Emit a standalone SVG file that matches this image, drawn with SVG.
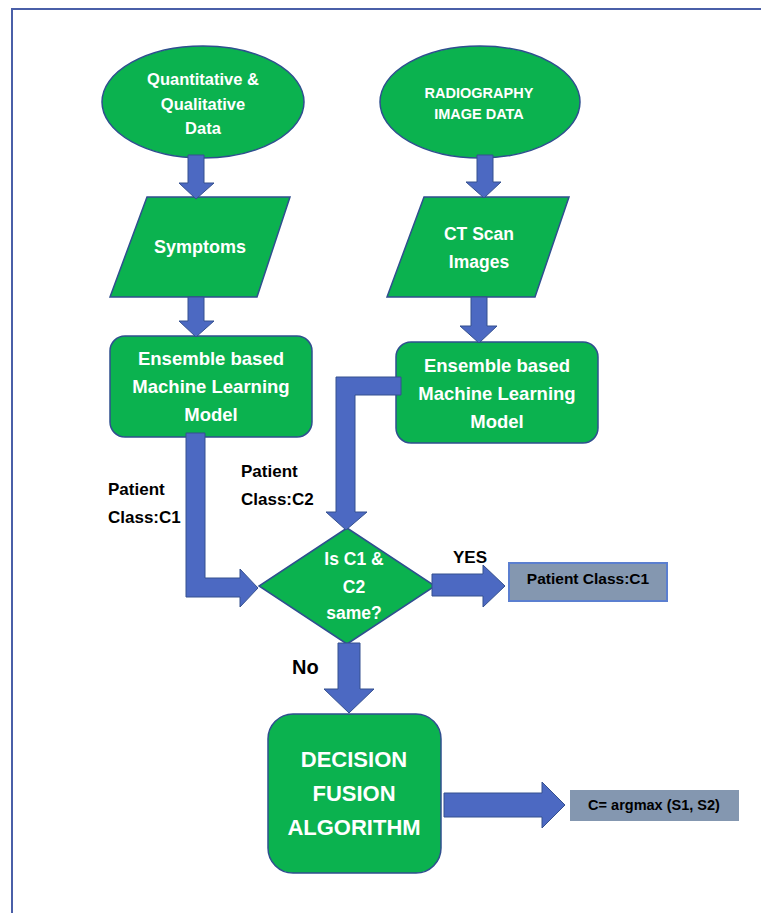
<svg xmlns="http://www.w3.org/2000/svg" width="761" height="913" viewBox="0 0 761 913">
<style>
.node{fill:#0bb24f;stroke:#2f4f8f;stroke-width:1.5}
.arr{fill:#4c69c2;stroke:#34508f;stroke-width:1}
.wt{font-family:"Liberation Sans",Arial,sans-serif;font-weight:bold;fill:#ffffff;text-anchor:middle}
.bt{font-family:"Liberation Sans",Arial,sans-serif;font-weight:bold;fill:#000000}
.out{fill:#8497b0}
</style>
<rect width="761" height="913" fill="#ffffff"/>
<rect x="12" y="9" width="800" height="960" fill="none" stroke="#4a5fa8" stroke-width="2"/>

<g id="n_quant">
<ellipse class="node" cx="203" cy="102" rx="101" ry="56"/>
<text class="wt" x="203" y="85" font-size="16.5">Quantitative &amp;</text>
<text class="wt" x="203" y="110" font-size="16.5">Qualitative</text>
<text class="wt" x="203" y="134" font-size="16.5">Data</text>
</g>
<g id="n_radio">
<ellipse class="node" cx="480" cy="102" rx="100" ry="56"/>
<text class="wt" x="479" y="98" font-size="14.5">RADIOGRAPHY</text>
<text class="wt" x="479" y="119" font-size="14.5">IMAGE DATA</text>
</g>
<g id="n_symptoms">
<polygon class="node" points="147,197 290,197 257,297 110,297"/>
<text class="wt" x="200" y="253" font-size="18">Symptoms</text>
</g>
<g id="n_ct">
<polygon class="node" points="424,197 569,197 535,297 387,297"/>
<text class="wt" x="479" y="240" font-size="17.5">CT Scan</text>
<text class="wt" x="479" y="268" font-size="17.5">Images</text>
</g>
<g id="n_ml1">
<rect class="node" x="110" y="336" width="202" height="101" rx="15"/>
<text class="wt" x="211" y="365" font-size="18.5">Ensemble based</text>
<text class="wt" x="211" y="393" font-size="18.5">Machine Learning</text>
<text class="wt" x="211" y="421" font-size="18.5">Model</text>
</g>
<g id="n_ml2">
<rect class="node" x="396" y="342" width="202" height="101" rx="15"/>
<text class="wt" x="497" y="372" font-size="18.5">Ensemble based</text>
<text class="wt" x="497" y="400" font-size="18.5">Machine Learning</text>
<text class="wt" x="497" y="428" font-size="18.5">Model</text>
</g>
<g id="n_decision">
<polygon class="node" points="347,528 435,586 347,644 259,586"/>
<text class="wt" x="354" y="565" font-size="17.5">Is C1 &amp;</text>
<text class="wt" x="354" y="593" font-size="17.5">C2</text>
<text class="wt" x="354" y="619" font-size="17.5">same?</text>
</g>
<g id="n_fusion">
<rect class="node" x="268" y="714" width="173" height="159" rx="25"/>
<text class="wt" x="354" y="767" font-size="22">DECISION</text>
<text class="wt" x="354" y="801" font-size="22">FUSION</text>
<text class="wt" x="354" y="835" font-size="22">ALGORITHM</text>
</g>
<g id="n_out1">
<rect class="out" x="509" y="563" width="158" height="38" stroke="#5b7fd0" stroke-width="2"/>
<text class="bt" x="588" y="584" font-size="15.5" text-anchor="middle">Patient Class:C1</text>
</g>
<g id="n_out2">
<rect class="out" x="570" y="790" width="169" height="31"/>
<text class="bt" x="654" y="810" font-size="14.5" text-anchor="middle">C= argmax (S1, S2)</text>
</g>

<g id="connectors">
<polygon class="arr" points="188,155 204,155 204,183 214,183 196,199 179,183 188,183"/>
<polygon class="arr" points="477,155 493,155 493,182 501,182 484,198 466,182 477,182"/>
<polygon class="arr" points="188,297 204,297 204,321 214,321 196,337 179,321 188,321"/>
<polygon class="arr" points="471,297 487,297 487,326 497,326 479,343 460,326 471,326"/>
<polygon class="arr" points="186,433 205,433 205,578 240,578 240,569 258,588 240,607 240,597 186,597"/>
<polygon class="arr" points="401,377 401,395 355,395 355,512 367,512 346,530 326,512 336,512 336,377"/>
<polygon class="arr" points="432,574 483,574 483,565 505,586 483,607 483,596 432,596"/>
<polygon class="arr" points="338,643 360,643 360,689 374,689 349,713 324,689 338,689"/>
<polygon class="arr" points="444,793 542,793 542,782 565,805 542,828 542,817 444,817"/>
</g>

<g id="labels">
<text class="bt" x="108" y="495" font-size="17">Patient</text>
<text class="bt" x="108" y="523" font-size="17">Class:C1</text>
<text class="bt" x="241" y="477" font-size="17">Patient</text>
<text class="bt" x="241" y="505" font-size="17">Class:C2</text>
<text class="bt" x="453" y="563" font-size="17">YES</text>
<text class="bt" x="292" y="674" font-size="20">No</text>
</g>
</svg>
